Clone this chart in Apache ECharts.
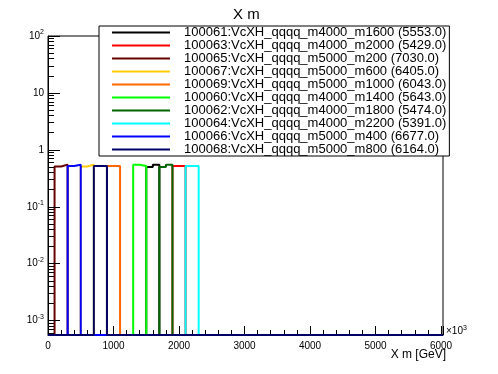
<!DOCTYPE html>
<html>
<head>
<meta charset="utf-8">
<script src="https://cdn.jsdelivr.net/npm/echarts@6/dist/echarts.min.js"></script>
<style>
html,body{margin:0;padding:0;background:#fff;}
#c{width:498px;height:374px;}
</style>
</head>
<body>
<div id="c"></div>
<script>
// ---- data ----
const sampleNames = [
  '100061:VcXH_qqqq_m4000_m1600 (5553.0)',
  '100063:VcXH_qqqq_m4000_m2000 (5429.0)',
  '100065:VcXH_qqqq_m5000_m200 (7030.0)',
  '100067:VcXH_qqqq_m5000_m600 (6405.0)',
  '100069:VcXH_qqqq_m5000_m1000 (6043.0)',
  '100060:VcXH_qqqq_m4000_m1400 (5643.0)',
  '100062:VcXH_qqqq_m4000_m1800 (5474.0)',
  '100064:VcXH_qqqq_m4000_m2200 (5391.0)',
  '100066:VcXH_qqqq_m5000_m400 (6677.0)',
  '100068:VcXH_qqqq_m5000_m800 (6164.0)'
];
// lower edge (GeV) of the first filled bin of each histogram
const firstBinLow = [1500, 1900, 100, 500, 900, 1300, 1700, 2100, 300, 700];
// contents of the two filled bins
const bin1Values = [0.50, 0.52, 0.51, 0.51, 0.52, 0.55, 0.50, 0.52, 0.52, 0.52];
const bin2Values = [0.55, 0.52, 0.55, 0.55, 0.52, 0.52, 0.55, 0.52, 0.55, 0.52];
const binWidth = 100;
const xTickLabels = ['0', '1000', '2000', '3000', '4000', '5000', '6000'];
const yTickExponents = [-3, -2, -1, 0, 1, 2];

// ---- styles ----
const lineColors = ['#000000', '#ff0000', '#660000', '#ffcc00', '#ff6600',
                    '#00ff00', '#006600', '#00ffff', '#0000ff', '#000066'];
const FONT = 'Liberation Sans, Arial, Helvetica, sans-serif';
const xMin = 0, xMax = 6030;
const yMin = 0.00056, yMax = 100;
const minorTickLenX = 92;   // ~6 px in axis units
const majorTickLenX = 184;  // ~12 px in axis units

function histPoints(i) {
  const lo = firstBinLow[i];
  return [
    [xMin, yMin], [lo, yMin], [lo, bin1Values[i]], [lo + binWidth, bin1Values[i]],
    [lo + binWidth, bin2Values[i]], [lo + 2 * binWidth, bin2Values[i]],
    [lo + 2 * binWidth, yMin], [xMax, yMin]
  ];
}

// log-axis tick marks (minor: 2..9 x 10^e, major: 10^e) drawn as mark lines
const tickLines = [];
for (let e = -4; e <= 2; e++) {
  const major = Math.pow(10, e);
  if (major >= yMin && major < yMax) {
    tickLines.push([{ coord: [xMin, major] }, { coord: [xMin + majorTickLenX, major] }]);
  }
  for (let k = 2; k <= 9; k++) {
    const v = k * Math.pow(10, e);
    if (v > yMin && v < yMax) {
      tickLines.push([{ coord: [xMin, v] }, { coord: [xMin + minorTickLenX, v] }]);
    }
  }
}

const series = sampleNames.map((name, i) => ({
  name: name,
  type: 'line',
  data: histPoints(i),
  showSymbol: false,
  symbol: 'none',
  clip: false,
  color: lineColors[i],
  lineStyle: { color: lineColors[i], width: 2 },
  animation: false
}));

series[0].markLine = {
  silent: true,
  animation: false,
  symbol: ['none', 'none'],
  label: { show: false },
  lineStyle: { color: '#000', width: 1, type: 'solid', opacity: 1 },
  emphasis: { disabled: true },
  data: tickLines
};

const chart = echarts.init(document.getElementById('c'));
chart.setOption({
  animation: false,
  backgroundColor: '#fff',
  textStyle: { fontFamily: FONT },
  grid: { left: 48, right: 55, top: 36, bottom: 39, show: true, borderColor: '#000', borderWidth: 1, backgroundColor: 'transparent' },
  xAxis: {
    type: 'value', min: xMin, max: xMax, interval: 1000,
    axisLine: { show: true, lineStyle: { color: '#000', width: 1 } },
    axisTick: { show: true, inside: true, length: 9, lineStyle: { color: '#000' } },
    minorTick: { show: true, splitNumber: 5, length: 5, lineStyle: { color: '#000' } },
    splitLine: { show: false },
    axisLabel: {
      color: '#000', fontSize: 10, fontFamily: FONT, margin: 6, showMaxLabel: false,
      formatter: function (v) { const idx = Math.round(v / 1000); return xTickLabels[idx] !== undefined && v % 1000 === 0 ? xTickLabels[idx] : ''; }
    }
  },
  yAxis: {
    type: 'log', logBase: 10, min: yMin, max: yMax,
    axisLine: { show: true, lineStyle: { color: '#000', width: 1 } },
    axisTick: { show: true, inside: true, length: 12, lineStyle: { color: '#000' } },
    splitLine: { show: false },
    axisLabel: {
      color: '#000', fontSize: 10, fontFamily: FONT, margin: 4, showMinLabel: false,
      formatter: function (v) {
        const e = Math.round(Math.log10(v));
        if (yTickExponents.indexOf(e) < 0 || Math.abs(Math.log10(v) - e) > 1e-6) return '';
        if (e === 0) return '1';
        if (e === 1) return '10';
        return '10{s|' + e + '}';
      },
      rich: { s: { fontSize: 7, fontFamily: FONT, color: '#000', padding: [0, 0, 7, 0] } }
    }
  },
  legend: {
    show: true,
    orient: 'vertical',
    left: 99, top: 26,
    data: sampleNames,
    icon: 'rect',
    itemWidth: 58, itemHeight: 2,
    itemGap: 0,
    padding: [0, 3, 0, 13],
    backgroundColor: '#fff',
    borderColor: '#000', borderWidth: 1,
    textStyle: { color: '#000', fontSize: 13, fontFamily: FONT, lineHeight: 12.2, padding: [0, 0, 0, 9] },
    z: 10
  },
  graphic: [
    { type: 'text', left: 233, top: 7, style: { text: 'X m', fill: '#000', font: '15px ' + FONT } },
    { type: 'text', right: 52, top: 349, style: { text: 'X m [GeV]', fill: '#000', font: '12px ' + FONT } },
    { type: 'text', left: 446, top: 325, style: { text: '\u00d710{s|3}', fill: '#000', font: '10px ' + FONT,
        rich: { s: { fontSize: 7, padding: [0, 0, 6, 0], fill: '#000' } } } }
  ],
  series: series
});
</script>
</body>
</html>
